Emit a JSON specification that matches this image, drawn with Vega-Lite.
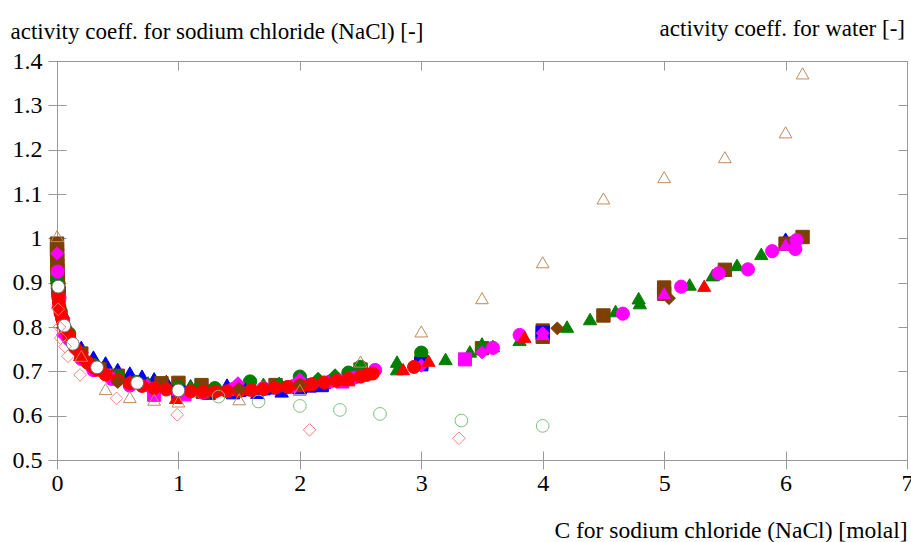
{
  "$schema": "https://vega.github.io/schema/vega-lite/v6.json",
  "width": 850,
  "height": 399,
  "autosize": {"type": "none"},
  "padding": {"left": 57, "top": 61, "right": 4, "bottom": 82},
  "background": "white",
  "config": {
    "view": {"stroke": "#999999", "strokeWidth": 1},
    "font": "'Liberation Serif', 'Times New Roman', serif"
  },
  "title": {
    "text": "activity coeff. for water [-]",
    "anchor": "end",
    "frame": "group",
    "font": "'Liberation Serif', 'Times New Roman', serif",
    "fontSize": 23,
    "fontWeight": "normal",
    "color": "#000000",
    "baseline": "alphabetic",
    "offset": -39,
    "dx": -2
  },
  "datasets": {
    "pts": [
      {"s":"BlueTri","x":0.001,"y":0.985},{"s":"BlueTri","x":0.003,"y":0.955},{"s":"BlueTri","x":0.01,"y":0.91},{"s":"BlueTri","x":0.02,"y":0.88},{"s":"BlueTri","x":0.05,"y":0.832},{"s":"BlueTri","x":0.1,"y":0.79},{"s":"BlueTri","x":0.2,"y":0.755},{"s":"BlueTri","x":0.3,"y":0.733},{"s":"BlueTri","x":0.4,"y":0.72},{"s":"BlueTri","x":0.5,"y":0.705},{"s":"BlueTri","x":0.6,"y":0.697},{"s":"BlueTri","x":0.7,"y":0.69},{"s":"BlueTri","x":0.8,"y":0.684},{"s":"BlueTri","x":0.9,"y":0.678},{"s":"BlueTri","x":1.0,"y":0.672},{"s":"BlueTri","x":1.1,"y":0.668},{"s":"BlueTri","x":1.2,"y":0.664},{"s":"BlueTri","x":1.3,"y":0.66},{"s":"BlueTri","x":1.4,"y":0.67},{"s":"BlueTri","x":1.5,"y":0.662},{"s":"BlueTri","x":1.6,"y":0.658},{"s":"BlueTri","x":1.7,"y":0.66},{"s":"BlueTri","x":1.8,"y":0.662},{"s":"BlueTri","x":1.9,"y":0.664},{"s":"BlueTri","x":2.0,"y":0.666},{"s":"BlueTri","x":2.2,"y":0.674},{"s":"BlueTri","x":1.05,"y":0.652},{"s":"BlueTri","x":1.25,"y":0.65},{"s":"BlueTri","x":1.45,"y":0.651},{"s":"BlueTri","x":1.65,"y":0.652},{"s":"BlueTri","x":1.85,"y":0.655},{"s":"BlueTri","x":6.0,"y":0.999},

      {"s":"BrownSq","x":0.0002,"y":0.988},{"s":"BrownSq","x":0.0005,"y":0.975},{"s":"BrownSq","x":0.001,"y":0.962},{"s":"BrownSq","x":0.002,"y":0.95},{"s":"BrownSq","x":0.003,"y":0.938},{"s":"BrownSq","x":0.004,"y":0.926},{"s":"BrownSq","x":0.006,"y":0.914},{"s":"BrownSq","x":0.008,"y":0.9},{"s":"BrownSq","x":0.01,"y":0.888},{"s":"BrownSq","x":0.015,"y":0.876},{"s":"BrownSq","x":0.2,"y":0.74},{"s":"BrownSq","x":0.35,"y":0.705},{"s":"BrownSq","x":0.5,"y":0.69},{"s":"BrownSq","x":0.86,"y":0.673},{"s":"BrownSq","x":1.0,"y":0.674},{"s":"BrownSq","x":1.19,"y":0.669},{"s":"BrownSq","x":1.2,"y":0.654},{"s":"BrownSq","x":1.5,"y":0.66},{"s":"BrownSq","x":1.8,"y":0.669},{"s":"BrownSq","x":2.5,"y":0.704},{"s":"BrownSq","x":3.0,"y":0.72},{"s":"BrownSq","x":3.5,"y":0.752},{"s":"BrownSq","x":4.0,"y":0.792},{"s":"BrownSq","x":4.0,"y":0.778},{"s":"BrownSq","x":4.5,"y":0.826},{"s":"BrownSq","x":5.0,"y":0.889},{"s":"BrownSq","x":5.0,"y":0.875},{"s":"BrownSq","x":5.5,"y":0.929},{"s":"BrownSq","x":6.0,"y":0.988},{"s":"BrownSq","x":6.14,"y":1.003},

      {"s":"GreenCirc","x":0.002,"y":0.907},{"s":"GreenCirc","x":0.03,"y":0.835},{"s":"GreenCirc","x":0.1,"y":0.785},{"s":"GreenCirc","x":0.3,"y":0.714},{"s":"GreenCirc","x":0.5,"y":0.688},{"s":"GreenCirc","x":0.65,"y":0.676},{"s":"GreenCirc","x":1.0,"y":0.664},{"s":"GreenCirc","x":1.3,"y":0.662},{"s":"GreenCirc","x":1.59,"y":0.677},{"s":"GreenCirc","x":2.0,"y":0.688},{"s":"GreenCirc","x":2.4,"y":0.697},{"s":"GreenCirc","x":2.5,"y":0.71},{"s":"GreenCirc","x":3.0,"y":0.742},

      {"s":"GreenTri","x":0.001,"y":0.91},{"s":"GreenTri","x":0.2,"y":0.74},{"s":"GreenTri","x":0.5,"y":0.69},{"s":"GreenTri","x":0.75,"y":0.675},{"s":"GreenTri","x":1.1,"y":0.668},{"s":"GreenTri","x":1.7,"y":0.672},{"s":"GreenTri","x":2.4,"y":0.686},{"s":"GreenTri","x":2.8,"y":0.722},{"s":"GreenTri","x":2.8,"y":0.705},{"s":"GreenTri","x":3.2,"y":0.728},{"s":"GreenTri","x":3.4,"y":0.745},{"s":"GreenTri","x":3.5,"y":0.763},{"s":"GreenTri","x":3.59,"y":0.757},{"s":"GreenTri","x":3.81,"y":0.771},{"s":"GreenTri","x":4.2,"y":0.801},{"s":"GreenTri","x":4.39,"y":0.818},{"s":"GreenTri","x":4.6,"y":0.836},{"s":"GreenTri","x":4.79,"y":0.865},{"s":"GreenTri","x":4.8,"y":0.854},{"s":"GreenTri","x":5.21,"y":0.896},{"s":"GreenTri","x":5.4,"y":0.917},{"s":"GreenTri","x":5.6,"y":0.94},{"s":"GreenTri","x":5.8,"y":0.965},

      {"s":"BlueSq","x":1.0,"y":0.652},{"s":"BlueSq","x":1.5,"y":0.658},{"s":"BlueSq","x":2.0,"y":0.664},{"s":"BlueSq","x":2.08,"y":0.668},{"s":"BlueSq","x":2.18,"y":0.669},{"s":"BlueSq","x":3.0,"y":0.716},{"s":"BlueSq","x":4.0,"y":0.787},

      {"s":"MagCirc","x":0.005,"y":0.925},{"s":"MagCirc","x":0.02,"y":0.865},{"s":"MagCirc","x":0.05,"y":0.815},{"s":"MagCirc","x":0.1,"y":0.772},{"s":"MagCirc","x":0.2,"y":0.728},{"s":"MagCirc","x":0.3,"y":0.703},{"s":"MagCirc","x":0.45,"y":0.683},{"s":"MagCirc","x":0.6,"y":0.668},{"s":"MagCirc","x":0.8,"y":0.658},{"s":"MagCirc","x":1.0,"y":0.652},{"s":"MagCirc","x":1.2,"y":0.652},{"s":"MagCirc","x":1.45,"y":0.66},{"s":"MagCirc","x":1.7,"y":0.662},{"s":"MagCirc","x":1.95,"y":0.667},{"s":"MagCirc","x":2.25,"y":0.677},{"s":"MagCirc","x":2.45,"y":0.686},{"s":"MagCirc","x":2.62,"y":0.703},{"s":"MagCirc","x":3.59,"y":0.753},{"s":"MagCirc","x":3.81,"y":0.782},{"s":"MagCirc","x":4.66,"y":0.83},{"s":"MagCirc","x":5.14,"y":0.891},{"s":"MagCirc","x":5.45,"y":0.921},{"s":"MagCirc","x":5.69,"y":0.93},{"s":"MagCirc","x":5.89,"y":0.971},{"s":"MagCirc","x":6.08,"y":0.976},{"s":"MagCirc","x":6.09,"y":0.996},

      {"s":"MagDia","x":0.001,"y":0.966},{"s":"MagDia","x":0.02,"y":0.872},{"s":"MagDia","x":0.05,"y":0.782},{"s":"MagDia","x":0.25,"y":0.716},{"s":"MagDia","x":0.48,"y":0.681},{"s":"MagDia","x":0.74,"y":0.668},{"s":"MagDia","x":1.0,"y":0.66},{"s":"MagDia","x":1.49,"y":0.673},{"s":"MagDia","x":2.0,"y":0.682},{"s":"MagDia","x":2.5,"y":0.69},{"s":"MagDia","x":3.0,"y":0.713},{"s":"MagDia","x":3.5,"y":0.743},{"s":"MagDia","x":4.0,"y":0.786},

      {"s":"GreenDia","x":1.15,"y":0.662},{"s":"GreenDia","x":1.83,"y":0.672},{"s":"GreenDia","x":2.15,"y":0.683},{"s":"GreenDia","x":2.29,"y":0.691},

      {"s":"MagSq","x":0.8,"y":0.647},{"s":"MagSq","x":1.05,"y":0.648},{"s":"MagSq","x":2.35,"y":0.677},{"s":"MagSq","x":3.36,"y":0.727},

      {"s":"RedCirc","x":0.01,"y":0.87},{"s":"RedCirc","x":0.015,"y":0.855},{"s":"RedCirc","x":0.02,"y":0.845},{"s":"RedCirc","x":0.03,"y":0.83},{"s":"RedCirc","x":0.04,"y":0.82},{"s":"RedCirc","x":0.05,"y":0.81},{"s":"RedCirc","x":0.07,"y":0.795},{"s":"RedCirc","x":0.1,"y":0.779},{"s":"RedCirc","x":0.15,"y":0.752},{"s":"RedCirc","x":0.2,"y":0.734},{"s":"RedCirc","x":0.25,"y":0.72},{"s":"RedCirc","x":0.3,"y":0.709},{"s":"RedCirc","x":0.4,"y":0.693},{"s":"RedCirc","x":0.5,"y":0.681},{"s":"RedCirc","x":0.6,"y":0.673},{"s":"RedCirc","x":0.7,"y":0.667},{"s":"RedCirc","x":0.8,"y":0.662},{"s":"RedCirc","x":0.9,"y":0.659},{"s":"RedCirc","x":1.0,"y":0.657},{"s":"RedCirc","x":1.1,"y":0.655},{"s":"RedCirc","x":1.2,"y":0.654},{"s":"RedCirc","x":1.3,"y":0.654},{"s":"RedCirc","x":1.4,"y":0.655},{"s":"RedCirc","x":1.5,"y":0.656},{"s":"RedCirc","x":1.6,"y":0.658},{"s":"RedCirc","x":1.7,"y":0.66},{"s":"RedCirc","x":1.8,"y":0.663},{"s":"RedCirc","x":1.9,"y":0.665},{"s":"RedCirc","x":2.0,"y":0.668},{"s":"RedCirc","x":2.1,"y":0.671},{"s":"RedCirc","x":2.2,"y":0.675},{"s":"RedCirc","x":2.3,"y":0.679},{"s":"RedCirc","x":2.4,"y":0.683},{"s":"RedCirc","x":2.5,"y":0.688},{"s":"RedCirc","x":2.55,"y":0.692},{"s":"RedCirc","x":2.6,"y":0.695},{"s":"RedCirc","x":2.94,"y":0.71},

      {"s":"RedTri","x":0.01,"y":0.855},{"s":"RedTri","x":0.05,"y":0.81},{"s":"RedTri","x":0.19,"y":0.737},{"s":"RedTri","x":0.35,"y":0.702},{"s":"RedTri","x":0.6,"y":0.678},{"s":"RedTri","x":0.98,"y":0.64},{"s":"RedTri","x":1.3,"y":0.657},{"s":"RedTri","x":1.6,"y":0.66},{"s":"RedTri","x":2.04,"y":0.668},{"s":"RedTri","x":2.4,"y":0.68},{"s":"RedTri","x":2.85,"y":0.705},{"s":"RedTri","x":3.06,"y":0.724},{"s":"RedTri","x":3.85,"y":0.778},{"s":"RedTri","x":5.33,"y":0.893},

      {"s":"BrownDia","x":0.5,"y":0.676},{"s":"BrownDia","x":1.0,"y":0.662},{"s":"BrownDia","x":1.5,"y":0.66},{"s":"BrownDia","x":2.0,"y":0.67},{"s":"BrownDia","x":4.12,"y":0.797},{"s":"BrownDia","x":5.04,"y":0.865},

      {"s":"MagTri","x":4.0,"y":0.784},{"s":"MagTri","x":5.0,"y":0.876},{"s":"MagTri","x":6.0,"y":0.986},

      {"s":"WhiteCirc","x":0.01,"y":0.891},{"s":"WhiteCirc","x":0.06,"y":0.803},{"s":"WhiteCirc","x":0.13,"y":0.762},{"s":"WhiteCirc","x":0.33,"y":0.709},{"s":"WhiteCirc","x":0.66,"y":0.674},{"s":"WhiteCirc","x":1.0,"y":0.657},

      {"s":"TanTri","x":0.001,"y":1.005},{"s":"TanTri","x":0.2,"y":0.735},{"s":"TanTri","x":0.4,"y":0.66},{"s":"TanTri","x":0.6,"y":0.642},{"s":"TanTri","x":0.8,"y":0.636},{"s":"TanTri","x":1.0,"y":0.632},{"s":"TanTri","x":1.5,"y":0.637},{"s":"TanTri","x":2.0,"y":0.658},{"s":"TanTri","x":2.5,"y":0.722},{"s":"TanTri","x":3.0,"y":0.79},{"s":"TanTri","x":3.5,"y":0.865},{"s":"TanTri","x":4.0,"y":0.946},{"s":"TanTri","x":4.5,"y":1.09},{"s":"TanTri","x":5.0,"y":1.138},{"s":"TanTri","x":5.5,"y":1.183},{"s":"TanTri","x":6.0,"y":1.239},{"s":"TanTri","x":6.14,"y":1.372},

      {"s":"GreenHollow","x":1.33,"y":0.643},{"s":"GreenHollow","x":1.66,"y":0.632},{"s":"GreenHollow","x":2.0,"y":0.622},{"s":"GreenHollow","x":2.33,"y":0.613},{"s":"GreenHollow","x":2.66,"y":0.604},{"s":"GreenHollow","x":3.33,"y":0.589},{"s":"GreenHollow","x":4.0,"y":0.577},

      {"s":"PinkDia","x":0.01,"y":0.84},{"s":"PinkDia","x":0.02,"y":0.8},{"s":"PinkDia","x":0.03,"y":0.775},{"s":"PinkDia","x":0.066,"y":0.756},{"s":"PinkDia","x":0.09,"y":0.734},{"s":"PinkDia","x":0.19,"y":0.692},{"s":"PinkDia","x":0.49,"y":0.639},{"s":"PinkDia","x":0.99,"y":0.602},{"s":"PinkDia","x":2.08,"y":0.568},{"s":"PinkDia","x":3.31,"y":0.549}
    ]
  },
  "data": {"name": "pts"},
  "mark": {"type": "point", "opacity": 1, "fillOpacity": 1, "strokeWidth": 1, "clip": false},
  "encoding": {
    "x": {
      "field": "x", "type": "quantitative",
      "scale": {"domain": [0, 7], "nice": false, "zero": false},
      "axis": {
        "values": [0, 1, 2, 3, 4, 5, 6, 7],
        "format": "d",
        "title": "C for sodium chloride (NaCl) [molal]",
        "titleFont": "'Liberation Serif', 'Times New Roman', serif", "titleFontSize": 23.5, "titleFontWeight": "normal", "titleColor": "#000000",
        "titleAlign": "right", "titleAnchor": "end", "titleBaseline": "alphabetic", "titleX": 850, "titleY": 77,
        "labelFont": "'Liberation Serif', 'Times New Roman', serif", "labelFontSize": 24, "labelColor": "#000000", "labelPadding": 2,
        "labelFlush": false, "labelOverlap": false,
        "tickSize": 9, "tickColor": "#999999", "domainColor": "#999999",
        "grid": true, "gridColor": "#999999", "gridOpacity": 1, "gridDash": [9, 381, 9, 1000]
      }
    },
    "y": {
      "field": "y", "type": "quantitative",
      "scale": {"domain": [0.5, 1.4], "nice": false, "zero": false},
      "axis": {
        "values": [0.5, 0.6, 0.7, 0.8, 0.9, 1, 1.1, 1.2, 1.3, 1.4],
        "format": "~g",
        "title": "activity coeff. for sodium chloride (NaCl) [-]",
        "titleFont": "'Liberation Serif', 'Times New Roman', serif", "titleFontSize": 23, "titleFontWeight": "normal", "titleColor": "#000000",
        "titleAngle": 0, "titleAlign": "left", "titleBaseline": "alphabetic", "titleX": -47, "titleY": -23,
        "labelFont": "'Liberation Serif', 'Times New Roman', serif", "labelFontSize": 24, "labelColor": "#000000", "labelPadding": 6,
        "labelFlush": false, "labelOverlap": false,
        "tickSize": 9, "tickColor": "#999999", "domainColor": "#999999",
        "grid": true, "gridColor": "#999999", "gridOpacity": 1, "gridDash": [9, 832, 9, 1000]
      }
    },
    "shape": {
      "field": "s", "type": "nominal", "legend": null,
      "scale": {
        "domain": ["BlueTri","BrownSq","GreenCirc","GreenTri","BlueSq","MagCirc","MagDia","GreenDia","MagSq","RedCirc","RedTri","BrownDia","MagTri","WhiteCirc","TanTri","GreenHollow","PinkDia"],
        "range": ["triangle-up","square","circle","triangle-up","square","circle","diamond","diamond","square","circle","triangle-up","diamond","triangle-up","circle","triangle-up","circle","diamond"]
      }
    },
    "fill": {
      "field": "s", "type": "nominal", "legend": null,
      "scale": {
        "domain": ["BlueTri","BrownSq","GreenCirc","GreenTri","BlueSq","MagCirc","MagDia","GreenDia","MagSq","RedCirc","RedTri","BrownDia","MagTri","WhiteCirc","TanTri","GreenHollow","PinkDia"],
        "range": ["#0000ff","#7f3f00","#008000","#008000","#0000ff","#ff00ff","#ff00ff","#008000","#ff00ff","#ff0000","#ff0000","#7f3f00","#ff00ff","#ffffff","transparent","transparent","transparent"]
      }
    },
    "stroke": {
      "field": "s", "type": "nominal", "legend": null,
      "scale": {
        "domain": ["BlueTri","BrownSq","GreenCirc","GreenTri","BlueSq","MagCirc","MagDia","GreenDia","MagSq","RedCirc","RedTri","BrownDia","MagTri","WhiteCirc","TanTri","GreenHollow","PinkDia"],
        "range": ["#0000ff","#7f3f00","#008000","#008000","#0000ff","#ff00ff","#ff00ff","#008000","#ff00ff","#ff0000","#ff0000","#7f3f00","#ff00ff","#6a6a6a","#c08a5c","#7fbf7f","#ff8080"]
      }
    },
    "size": {
      "field": "s", "type": "nominal", "legend": null,
      "scale": {
        "domain": ["BlueTri","BrownSq","GreenCirc","GreenTri","BlueSq","MagCirc","MagDia","GreenDia","MagSq","RedCirc","RedTri","BrownDia","MagTri","WhiteCirc","TanTri","GreenHollow","PinkDia"],
        "range": [180,160,160,180,160,160,180,180,160,160,180,180,180,150,180,150,140]
      }
    }
  }
}
